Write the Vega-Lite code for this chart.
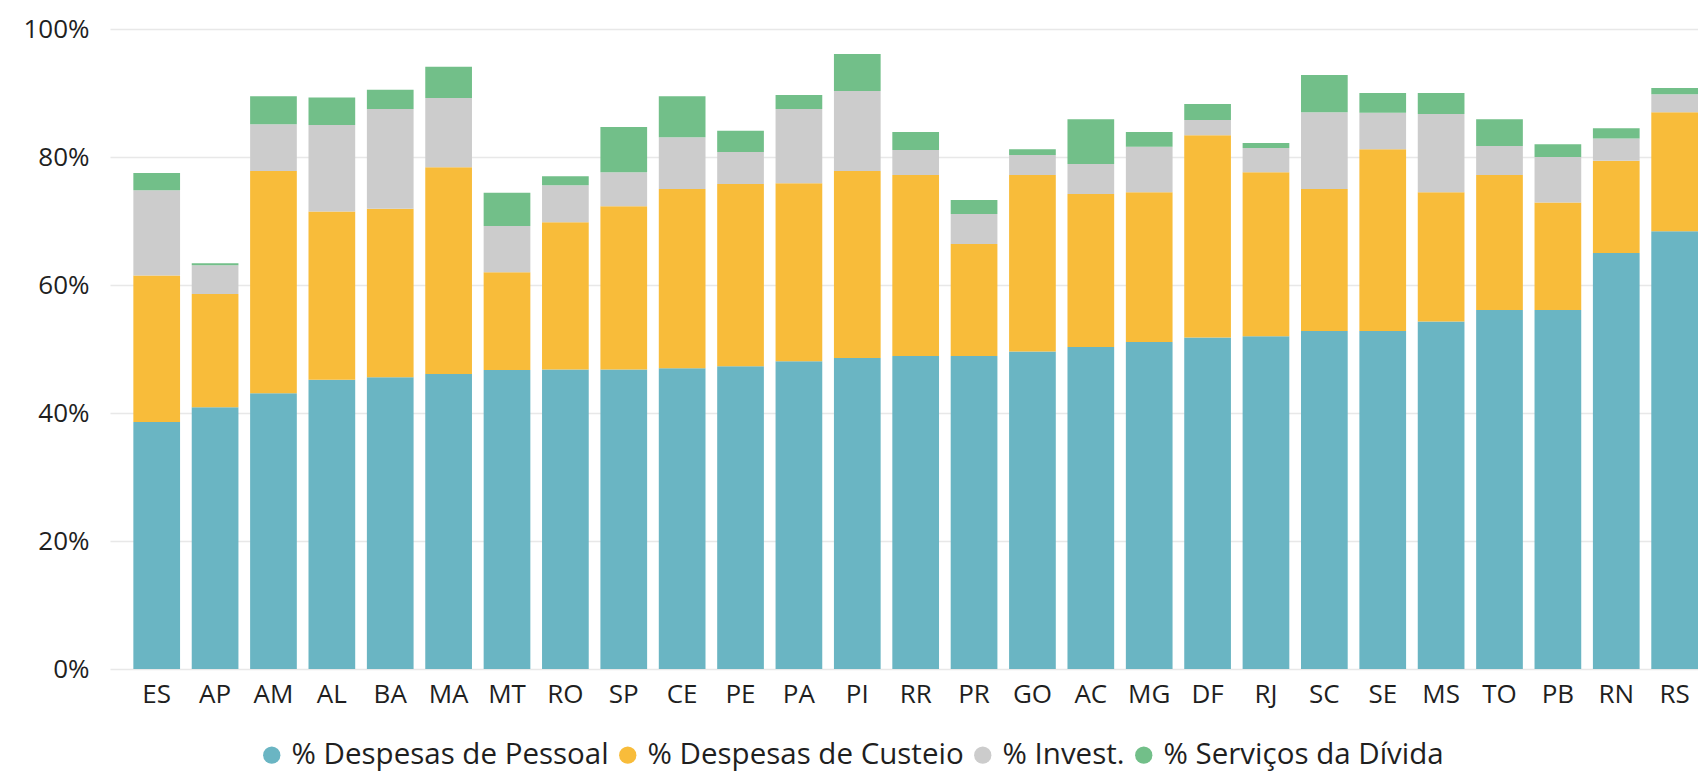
{
  "$schema": "https://vega.github.io/schema/vega-lite/v6.json",
  "width": 1588,
  "height": 640,
  "autosize": {"type": "none"},
  "padding": {"left": 110, "top": 29, "right": 0, "bottom": 105},
  "background": "white",
  "config": {
    "view": {"stroke": null},
    "font": "Open Sans"
  },
  "datasets": {
    "tabela": [
      {"uf":"ES","p":0.386,"c":0.229,"i":0.133,"d":0.027},
      {"uf":"AP","p":0.409,"c":0.177,"i":0.045,"d":0.003},
      {"uf":"AM","p":0.431,"c":0.347,"i":0.073,"d":0.044},
      {"uf":"AL","p":0.452,"c":0.263,"i":0.135,"d":0.043},
      {"uf":"BA","p":0.456,"c":0.263,"i":0.156,"d":0.030},
      {"uf":"MA","p":0.461,"c":0.323,"i":0.108,"d":0.049},
      {"uf":"MT","p":0.467,"c":0.153,"i":0.072,"d":0.052},
      {"uf":"RO","p":0.468,"c":0.230,"i":0.058,"d":0.014},
      {"uf":"SP","p":0.468,"c":0.255,"i":0.053,"d":0.071},
      {"uf":"CE","p":0.470,"c":0.280,"i":0.081,"d":0.064},
      {"uf":"PE","p":0.473,"c":0.285,"i":0.050,"d":0.033},
      {"uf":"PA","p":0.481,"c":0.278,"i":0.116,"d":0.022},
      {"uf":"PI","p":0.486,"c":0.292,"i":0.125,"d":0.058},
      {"uf":"RR","p":0.489,"c":0.283,"i":0.039,"d":0.028},
      {"uf":"PR","p":0.489,"c":0.175,"i":0.047,"d":0.022},
      {"uf":"GO","p":0.496,"c":0.276,"i":0.031,"d":0.009},
      {"uf":"AC","p":0.503,"c":0.239,"i":0.047,"d":0.070},
      {"uf":"MG","p":0.511,"c":0.234,"i":0.071,"d":0.023},
      {"uf":"DF","p":0.518,"c":0.316,"i":0.024,"d":0.025},
      {"uf":"RJ","p":0.520,"c":0.256,"i":0.038,"d":0.008},
      {"uf":"SC","p":0.528,"c":0.222,"i":0.120,"d":0.058},
      {"uf":"SE","p":0.528,"c":0.284,"i":0.057,"d":0.031},
      {"uf":"MS","p":0.543,"c":0.202,"i":0.122,"d":0.033},
      {"uf":"TO","p":0.561,"c":0.211,"i":0.045,"d":0.042},
      {"uf":"PB","p":0.561,"c":0.168,"i":0.071,"d":0.020},
      {"uf":"RN","p":0.650,"c":0.144,"i":0.035,"d":0.016},
      {"uf":"RS","p":0.684,"c":0.186,"i":0.028,"d":0.010}
    ]
  },
  "data": {"name": "tabela"},
  "transform": [
    {"fold": ["p", "c", "i", "d"], "as": ["chave", "valor"]},
    {"lookup": "chave", "from": {"data": {"values": [
      {"chave":"p","serie":"% Despesas de Pessoal","ordem":1},
      {"chave":"c","serie":"% Despesas de Custeio","ordem":2},
      {"chave":"i","serie":"% Invest.","ordem":3},
      {"chave":"d","serie":"% Serviços da Dívida","ordem":4}
    ]}, "key": "chave", "fields": ["serie", "ordem"]}}
  ],
  "mark": {"type": "bar"},
  "encoding": {
    "x": {
      "field": "uf", "type": "nominal", "sort": null,
      "scale": {"paddingInner": 0.2, "paddingOuter": 0.2, "align": 1},
      "axis": {"title": null, "labelAngle": 0, "ticks": false, "domain": false,
               "labelFontSize": 26, "labelColor": "#1f1f1f", "labelPadding": 12}
    },
    "y": {
      "field": "valor", "type": "quantitative", "stack": "zero",
      "scale": {"domain": [0, 1]},
      "axis": {"title": null, "format": ".0%", "values": [0, 0.2, 0.4, 0.6, 0.8, 1],
               "ticks": false, "domain": false, "labelFontSize": 26, "labelColor": "#1f1f1f",
               "labelPadding": 21, "gridColor": "#e8e8e8", "gridWidth": 1.5}
    },
    "order": {"field": "ordem", "type": "quantitative", "sort": "ascending"},
    "color": {
      "field": "serie", "type": "nominal",
      "scale": {
        "domain": ["% Despesas de Pessoal", "% Despesas de Custeio", "% Invest.", "% Serviços da Dívida"],
        "range": ["#6AB5C3", "#F8BC3A", "#CCCCCC", "#72BF89"]
      },
      "legend": {
        "orient": "none", "legendX": 147, "legendY": 711, "direction": "horizontal",
        "title": null, "symbolType": "circle", "symbolSize": 300, "symbolStrokeWidth": 0,
        "labelFontSize": 29.5, "labelColor": "#1f1f1f", "labelOffset": 5, "columnPadding": 4,
        "labelLimit": 500
      }
    }
  }
}
